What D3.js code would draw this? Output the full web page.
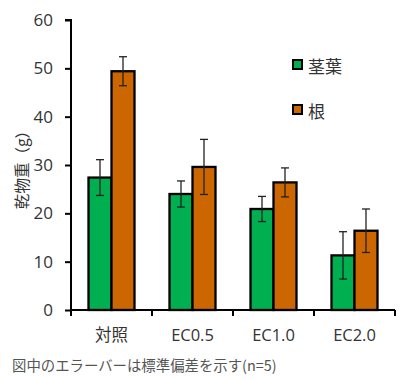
<!DOCTYPE html>
<html><head><meta charset="utf-8">
<script src="https://cdn.jsdelivr.net/npm/d3@7"></script>
<style>body{margin:0;background:#fff}svg{display:block}text{font-family:"Noto Sans CJK JP","Noto Sans",sans-serif}</style>
</head><body>
<svg id="c" width="400" height="380"></svg>
<script>
const categories = ["対照","EC0.5","EC1.0","EC2.0"];
const seriesNames = ["茎葉","根"];
const stemValues = [27.4, 24.0, 20.9, 11.3];
const stemSd = [3.7, 2.7, 2.6, 4.9];
const rootValues = [49.4, 29.6, 26.4, 16.4];
const rootSd = [3.0, 5.7, 3.0, 4.5];
const yTicks = [0,10,20,30,40,50,60];
const colors = ["#00b050","#cc6600"];

const svg = d3.select("#c");
const x = d3.scaleBand().domain(categories).range([71,395]).paddingInner(0).paddingOuter(0);
const y = d3.scaleLinear().domain([0,60]).range([310,20]);
const barW = 23;

const series = [
  {name: seriesNames[0], vals: stemValues, sd: stemSd, color: colors[0], off: -barW},
  {name: seriesNames[1], vals: rootValues, sd: rootSd, color: colors[1], off: 0}
];

series.forEach(s => {
  const g = svg.append("g");
  categories.forEach((c,i) => {
    const cx = x(c) + x.bandwidth()/2 + s.off;
    g.append("rect").attr("x", cx).attr("y", y(s.vals[i])).attr("width", barW)
      .attr("height", y(0)-y(s.vals[i])).attr("fill", s.color).attr("stroke","#000").attr("stroke-width",2.3);
  });
});
series.forEach(s => {
  categories.forEach((c,i) => {
    const mx = x(c) + x.bandwidth()/2 + s.off + barW/2;
    const hi = y(s.vals[i]+s.sd[i]), lo = y(s.vals[i]-s.sd[i]);
    svg.append("line").attr("x1",mx).attr("x2",mx).attr("y1",hi).attr("y2",lo).attr("stroke","#222").attr("stroke-width",1.3);
    [hi,lo].forEach(yy => svg.append("line").attr("x1",mx-4).attr("x2",mx+4).attr("y1",yy).attr("y2",yy).attr("stroke","#222").attr("stroke-width",1.3));
  });
});

// y axis
const yAx = svg.append("g").attr("transform","translate(71,0)")
  .call(d3.axisLeft(y).tickValues(yTicks).tickSize(6).tickPadding(12));
yAx.select(".domain").attr("stroke","#000").attr("stroke-width",2).attr("d","M-6,20H0V310");
yAx.selectAll(".tick line").attr("stroke","#000").attr("stroke-width",2);
yAx.selectAll(".tick text").attr("font-size",17).attr("fill","#333").style("font-family","'Open Sans','Noto Sans',sans-serif");

// x axis
const xAx = svg.append("g").attr("transform","translate(0,310)")
  .call(d3.axisBottom(x).tickSize(0).tickPadding(19));
xAx.select(".domain").attr("stroke","#000").attr("stroke-width",2).attr("d","M71,0H395");
xAx.selectAll(".tick text").attr("font-size",16.5).attr("fill","#333").style("font-family","'Open Sans','Noto Sans CJK JP',sans-serif");
const bounds = categories.map(c => x(c)).concat([x(categories[categories.length-1]) + x.bandwidth()]);
bounds.forEach(b => svg.append("line").attr("x1",b).attr("x2",b).attr("y1",310).attr("y2",316).attr("stroke","#000").attr("stroke-width",2));

// y title
svg.append("text").attr("transform","translate(21,166) rotate(-90)").attr("text-anchor","middle")
  .attr("dominant-baseline","central").attr("font-size",15.5).attr("fill","#333").text("乾物重（g）");

// legend
series.forEach((s,i) => {
  const ly = 60 + i*45;
  svg.append("rect").attr("x",293).attr("y",ly).attr("width",9).attr("height",9).attr("fill",s.color).attr("stroke","#000").attr("stroke-width",2);
  svg.append("text").attr("x",308).attr("y",ly+5).attr("dominant-baseline","central").attr("font-size",17).attr("fill","#333").text(s.name);
});

// footnote
svg.append("text").attr("x",12).attr("y",371).attr("font-size",14.4).attr("fill","#555").text("図中のエラーバーは標準偏差を示す(n=5)");
</script>
</body></html>
